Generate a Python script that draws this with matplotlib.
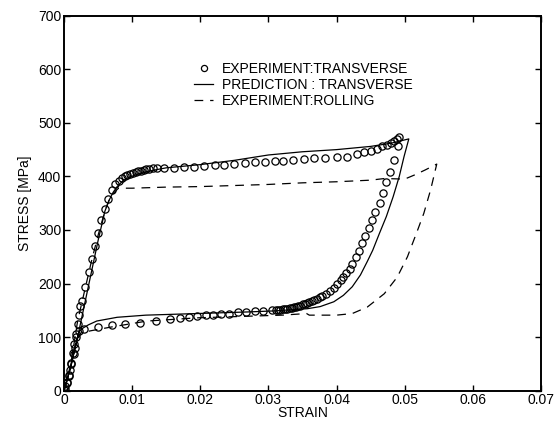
import matplotlib
matplotlib.use("Agg")
import matplotlib.pyplot as plt
import numpy as np

plt.rcParams['font.family'] = ['Liberation Sans', 'DejaVu Sans']

# Experiment: transverse (circles)
exp_t_strain = [
    0.0000, 0.0002, 0.0004, 0.0007, 0.0009, 0.0011, 0.0014, 0.0016, 0.0018, 0.0020,
    0.0022, 0.0024, 0.0027, 0.0031, 0.0037, 0.0041, 0.0046, 0.0050, 0.0055, 0.0060,
    0.0064, 0.0070, 0.0075, 0.0080, 0.0085, 0.0089, 0.0093, 0.0097, 0.0101, 0.0105,
    0.0109, 0.0113, 0.0117, 0.0121, 0.0125, 0.0130, 0.0137, 0.0147, 0.0162, 0.0176,
    0.0191, 0.0206, 0.0221, 0.0235, 0.0250, 0.0265, 0.0280, 0.0295, 0.0309, 0.0322,
    0.0336, 0.0352, 0.0367, 0.0383, 0.0400, 0.0416, 0.0430, 0.0440, 0.0450, 0.0459,
    0.0467, 0.0474, 0.0480, 0.0485, 0.0489, 0.0492,
    0.0490, 0.0484, 0.0479, 0.0473, 0.0468, 0.0463, 0.0457, 0.0452, 0.0447, 0.0442,
    0.0438, 0.0433, 0.0428, 0.0423, 0.0419, 0.0414, 0.0410, 0.0406, 0.0401, 0.0396,
    0.0391, 0.0385, 0.0379, 0.0375, 0.0371, 0.0367, 0.0364, 0.0360, 0.0357, 0.0353,
    0.0350, 0.0347, 0.0344, 0.0341, 0.0337, 0.0334, 0.0331, 0.0327, 0.0324, 0.0321,
    0.0317, 0.0314, 0.0311, 0.0305,
    0.0292, 0.0280, 0.0267, 0.0255, 0.0242, 0.0231, 0.0219, 0.0208, 0.0195, 0.0183,
    0.0170, 0.0156, 0.0135, 0.0112, 0.0090, 0.0070, 0.0050, 0.0030, 0.0022, 0.0017,
    0.0015, 0.0013, 0.0010, 0.0007, 0.0004, 0.0001,
]
exp_t_stress = [
    2, 8, 17, 28, 38, 52, 68, 80, 105, 125,
    142, 158, 168, 194, 221, 246, 271, 294, 318, 339,
    357, 374, 385, 392, 397, 400, 402, 404, 406, 408,
    410, 411, 412, 413, 414, 415, 416, 416, 416, 417,
    418, 420, 421, 422, 423, 425, 426, 427, 428, 429,
    431, 432, 434, 435, 436, 437, 441, 445, 448, 452,
    456, 459, 462, 467, 470, 473,
    456, 431, 409, 389, 369, 350, 334, 319, 303, 289,
    275, 261, 249, 237, 228, 220, 212, 206, 199, 192,
    187, 181, 176, 174, 172, 169, 167, 165, 164, 162,
    161, 159, 158, 157, 156, 155, 154, 153, 152, 152,
    151, 151, 150, 150,
    149, 148, 147, 146, 144, 143, 142, 141, 139, 138,
    136, 134, 131, 127, 125, 122, 119, 116, 112, 100,
    88, 70, 50, 30, 14, 4,
]

# Prediction: transverse (solid line)
pred_strain = [
    0.0000, 0.0010, 0.0020, 0.0030, 0.0040, 0.0050, 0.0060, 0.0066, 0.0072, 0.0078,
    0.0085, 0.0093, 0.0105, 0.0125, 0.0150, 0.0200, 0.0250, 0.0300, 0.0350, 0.0400,
    0.0450, 0.0480, 0.0506,
    0.0499, 0.0492, 0.0483, 0.0473, 0.0463, 0.0453, 0.0445, 0.0435, 0.0423, 0.0410,
    0.0396, 0.0376, 0.0357, 0.0333, 0.0310, 0.0270, 0.0220, 0.0170, 0.0120, 0.0078,
    0.0048, 0.0036, 0.0028, 0.0022, 0.0018, 0.0010, 0.0000,
]
pred_stress = [
    0, 45, 100, 160, 220, 280, 335, 355, 370, 381,
    390, 397, 403, 410, 416, 422, 430, 440, 446, 450,
    456, 462, 470,
    437, 400, 362, 325, 294, 262, 241, 216, 194, 178,
    166, 157, 153, 151, 149, 147, 145, 143, 141, 137,
    130, 123, 117, 110, 90, 45, 0,
]

# Experiment: rolling (dashed line)
roll_strain = [
    0.0000, 0.0010, 0.0020, 0.0030, 0.0040, 0.0050, 0.0060, 0.0066, 0.0072, 0.0080,
    0.0100, 0.0150, 0.0200, 0.0250, 0.0300, 0.0350, 0.0400, 0.0450, 0.0470, 0.0500,
    0.0515, 0.0530, 0.0547,
    0.0538, 0.0528, 0.0519, 0.0504, 0.0489, 0.0470, 0.0445, 0.0423,
    0.0400, 0.0360, 0.0356, 0.0320, 0.0270, 0.0196, 0.0122, 0.0070, 0.0040, 0.0025,
    0.0018, 0.0012, 0.0006, 0.0000,
]
roll_stress = [
    0, 50, 130, 185, 240, 290, 335, 355, 368, 378,
    378, 380, 381, 383, 385, 388, 390, 393, 396, 395,
    403, 412, 423,
    375, 331, 300, 250, 212, 181, 156, 144,
    141, 141, 144, 141, 139, 136, 130, 119, 112, 108,
    95, 60, 25, 0,
]

x_ticks = [0, 0.01, 0.02, 0.03, 0.04, 0.05, 0.06, 0.07]
x_tick_labels = ['0', '0.01', '0.02', '0.03', '0.04', '0.05', '0.06', '0.07']
y_ticks = [0, 100, 200, 300, 400, 500, 600, 700]

fig = plt.figure(figsize=(5.55, 4.23), dpi=100)
ax = fig.add_axes([0.1153, 0.0764, 0.8595, 0.8865])

ax.plot(exp_t_strain, exp_t_stress, linestyle='none', marker='o', markersize=5.2,
        markerfacecolor='none', markeredgecolor='black', markeredgewidth=0.9,
        label='EXPERIMENT:TRANSVERSE')
ax.plot(pred_strain, pred_stress, color='black', linewidth=0.9,
        label='PREDICTION : TRANSVERSE')
ax.plot(roll_strain, roll_stress, color='black', linewidth=0.9, linestyle=(0, (7, 5.5)),
        label='EXPERIMENT:ROLLING')

ax.set_xlim(0, 0.07)
ax.set_ylim(0, 700)
ax.set_xticks(x_ticks)
ax.set_xticklabels(x_tick_labels)
ax.set_yticks(y_ticks)
ax.tick_params(direction='in', length=4, width=1, top=True, right=True,
               labelsize=10, pad=2)
for s in ax.spines.values():
    s.set_linewidth(1.4)

ax.set_xlabel('STRAIN', fontsize=10, labelpad=-1)
ax.set_ylabel('STRESS [MPa]', fontsize=10, labelpad=4)

leg = ax.legend(loc='upper left', bbox_to_anchor=(0.258, 0.896), frameon=False,
                fontsize=10, handlelength=1.4, handletextpad=0.6,
                labelspacing=0.15, borderpad=0, markerscale=0.85)

fig.savefig('out.png', dpi=100)
